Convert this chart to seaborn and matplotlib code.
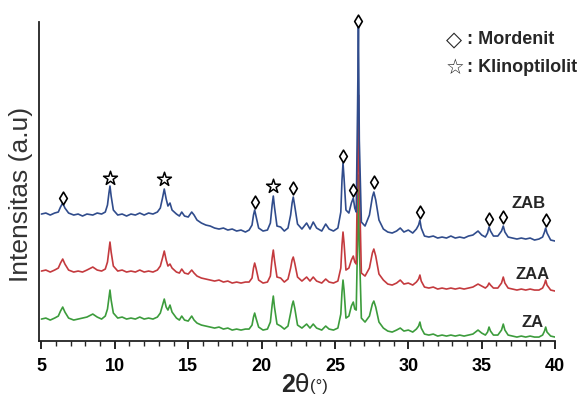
import matplotlib
matplotlib.use("Agg")
import matplotlib.pyplot as plt
import seaborn as sns
import pandas as pd
from matplotlib.ticker import MultipleLocator

# ---- data (2theta, intensity in arbitrary units) ----
two_theta = [
    5.0, 5.3, 5.6, 5.9, 6.15, 6.3, 6.45, 6.6, 6.85, 7.2,
    7.5, 7.8, 8.1, 8.5, 8.8, 9.1, 9.35, 9.5, 9.6, 9.67,
    9.75, 9.9, 10.2, 10.5, 10.8, 11.1, 11.4, 11.7, 12.0, 12.3,
    12.6, 12.9, 13.1, 13.25, 13.37, 13.5, 13.62, 13.76, 13.9, 14.2,
    14.4, 14.56, 14.75, 15.0, 15.24, 15.4, 15.6, 15.9, 16.2, 16.5,
    16.8, 17.1, 17.4, 17.7, 18.0, 18.3, 18.6, 18.9, 19.15, 19.35,
    19.45, 19.53, 19.62, 19.8, 20.1, 20.4, 20.6, 20.72, 20.8, 20.88,
    21.05, 21.3, 21.55, 21.8, 21.98, 22.08, 22.16, 22.26, 22.45, 22.75,
    23.07, 23.3, 23.52, 23.75, 24.1, 24.37, 24.6, 24.9, 25.2, 25.4,
    25.48, 25.55, 25.62, 25.75, 25.95, 26.12, 26.25, 26.35, 26.45, 26.54,
    26.6, 26.66, 26.8, 27.05, 27.35, 27.55, 27.65, 27.78, 28.0, 28.3,
    28.6, 28.9, 29.2, 29.45, 29.7, 30.0, 30.3, 30.55, 30.7, 30.79,
    30.88, 31.1, 31.4, 31.7, 32.0, 32.3, 32.6, 32.9, 33.2, 33.5,
    33.8, 34.1, 34.4, 34.75, 35.0, 35.25, 35.4, 35.5, 35.6, 35.8,
    36.1, 36.35, 36.47, 36.58, 36.8, 37.1, 37.4, 37.7, 38.0, 38.3,
    38.6, 38.9, 39.15, 39.28, 39.36, 39.45, 39.7, 40.0,
]

zab = [
    128, 129, 127, 129, 130, 135, 139, 134, 129, 127,
    128, 126, 128, 127, 129, 128, 130, 137, 149, 156,
    146, 132, 127, 128, 126, 128, 127, 129, 127, 129,
    128, 130, 134, 144, 153, 143, 136, 139, 132, 128,
    126, 130, 126, 125, 130, 127, 122, 119, 117, 116,
    114, 113, 114, 112, 113, 111, 112, 110, 112, 117,
    127, 132, 126, 114, 111, 112, 119, 137, 146, 135,
    116, 115, 111, 114, 127, 139, 145, 136, 118, 113,
    119, 113, 120, 114, 111, 118, 113, 111, 114, 130,
    162, 179, 164, 132, 129, 139, 144, 134, 130, 232,
    317, 202, 120, 116, 127, 145, 150, 142, 122, 113,
    110, 109, 111, 114, 110, 112, 109, 113, 117, 122,
    114, 106, 105, 106, 104, 105, 104, 106, 104, 105,
    104, 106, 107, 111, 107, 105, 109, 115, 111, 106,
    106, 111, 116, 110, 105, 104, 103, 104, 103, 104,
    102, 103, 105, 110, 114, 109, 102, 101,
]

zaa = [
    71, 72, 70, 72, 74, 79, 83, 78, 72, 70,
    71, 70, 72, 75, 72, 71, 73, 80, 92, 100,
    90, 76, 71, 72, 70, 71, 70, 72, 70, 71,
    70, 72, 76, 84, 91, 82, 76, 78, 74, 70,
    69, 73, 69, 68, 72, 69, 66, 64, 63, 62,
    61, 62, 60, 61, 59, 60, 59, 60, 60, 64,
    74, 79, 74, 62, 59, 60, 66, 84, 92, 82,
    65, 64, 60, 63, 74, 82, 85, 79, 65, 61,
    65, 61, 65, 61, 59, 63, 60, 59, 61, 74,
    97, 110, 99, 72, 74, 82, 86, 80, 78, 172,
    247, 162, 69, 66, 74, 89, 93, 86, 68, 62,
    58, 57, 59, 62, 58, 59, 57, 60, 63, 67,
    61, 55, 54, 55, 53, 54, 53, 54, 53, 54,
    53, 54, 55, 58, 56, 54, 56, 59, 57, 54,
    54, 59, 65, 59, 54, 53, 52, 53, 52, 53,
    52, 52, 54, 58, 62, 57, 52, 51,
]

za = [
    23, 24, 22, 24, 26, 31, 35, 30, 24, 22,
    23, 24, 25, 28, 25, 23, 26, 33, 44, 52,
    42, 29, 24, 25, 23, 24, 23, 25, 23, 24,
    23, 25, 29, 37, 43, 35, 32, 37, 30, 24,
    22, 26, 22, 21, 26, 22, 19, 17, 16, 15,
    14, 15, 13, 14, 12, 13, 12, 13, 13, 17,
    25, 29, 24, 15, 12, 13, 20, 37, 46, 35,
    18, 16, 13, 16, 29, 37, 41, 34, 17, 14,
    18, 14, 18, 14, 12, 16, 13, 12, 14, 28,
    50, 62, 52, 24, 26, 36, 40, 33, 32, 102,
    167, 97, 24, 20, 26, 38, 41, 35, 20, 14,
    11, 10, 12, 14, 11, 12, 10, 13, 16, 20,
    14, 8, 7, 8, 6, 7, 6, 7, 6, 7,
    6, 7, 8, 12, 9, 7, 10, 15, 11, 7,
    7, 12, 18, 12, 7, 6, 5, 6, 5, 6,
    5, 5, 7, 11, 15, 10, 6, 5,
]

series_names = ["ZA", "ZAA", "ZAB"]
series_colors = ["#3c9c3c", "#c43a3e", "#304c8c"]

# phase markers above the ZAB peaks
mordenit_x = [6.45, 19.53, 22.16, 25.55, 26.25, 26.6, 27.65, 30.79, 35.5, 36.47, 39.36]
mordenit_y = [144, 140, 154, 186, 152, 321, 160, 130, 123, 125, 122]
klino_x = [9.67, 13.37, 20.8]
klino_y = [164, 163, 156]

# series label positions
label_x = [38.5, 38.5, 38.2]
label_y = [20, 68, 139]

legend_symbols = ["◇", "☆"]
legend_names = [": Mordenit", ": Klinoptilolit"]

assert len(two_theta) == len(zab) == len(zaa) == len(za)

frames = []
for name, vals in zip(series_names, [za, zaa, zab]):
    frames.append(pd.DataFrame({"2theta": two_theta, "I": vals, "sample": name}))
df = pd.concat(frames, ignore_index=True)

sns.set_style("white")
plt.rcParams["font.family"] = ["Liberation Sans", "DejaVu Sans"]

fig = plt.figure(figsize=(5.77, 4.07), dpi=100)
ax = fig.add_axes([0.068, 0.162, 0.894, 0.784])

sns.lineplot(data=df, x="2theta", y="I", hue="sample", hue_order=series_names,
             palette=series_colors, linewidth=1.2, legend=False, ax=ax,
             sort=False, estimator=None)

ax.scatter(mordenit_x, mordenit_y, marker="d", s=42, facecolors="white",
           edgecolors="black", linewidths=1.2, zorder=5, clip_on=False)
ax.scatter(klino_x, klino_y, marker="*", s=110, facecolors="white",
           edgecolors="black", linewidths=1.1, zorder=5, clip_on=False)

for name, lx, ly in zip(series_names, label_x, label_y):
    ax.text(lx, ly, name, ha="center", va="center", fontsize=12, fontweight="bold")

# legend-like annotation (top right)
leg_y_px = [40, 68]
for sym, txt, ypx in zip(legend_symbols, legend_names, leg_y_px):
    yf = 1 - ypx / 407
    fig.text(446 / 577, yf, sym, fontsize=15, fontweight="bold", ha="left", va="center",
             family=["DejaVu Sans"])
    fig.text(467 / 577, yf, txt, fontsize=13, fontweight="bold", ha="left", va="center")

ax.set_xlim(4.85, 40.0)
ax.set_ylim(1, 320)
ax.xaxis.set_major_locator(MultipleLocator(5))
ax.xaxis.set_minor_locator(MultipleLocator(1))
ax.tick_params(axis="x", which="major", direction="out", length=6, width=1.2,
               bottom=True, labelsize=13, colors="black", pad=6)
ax.tick_params(axis="x", which="minor", direction="out", length=3.5, width=1.0, bottom=True)
for lab in ax.get_xticklabels():
    lab.set_fontweight("bold")
ax.set_yticks([])
ax.set_xlabel("")
ax.set_ylabel("Intensitas (a.u)", fontsize=19, color="#333333")
ax.yaxis.set_label_coords(-0.012, 0.46)

for side in ["top", "right"]:
    ax.spines[side].set_visible(False)
for side in ["left", "bottom"]:
    ax.spines[side].set_color("#222222")
    ax.spines[side].set_linewidth(1.3)

# x label: bold "2", theta, small "(°)"
fig.canvas.draw()
r = fig.canvas.get_renderer()
t1 = fig.text(0.487, 0.036, "2", fontsize=18, fontweight="bold", ha="left", va="baseline")
bb = t1.get_window_extent(renderer=r)
t2 = fig.text(bb.x1 / fig.bbox.width, 0.036, "θ", fontsize=17, ha="left", va="baseline",
              family=["DejaVu Sans"])
bb2 = t2.get_window_extent(renderer=r)
fig.text(bb2.x1 / fig.bbox.width + 0.002, 0.039, "(°)", fontsize=12, ha="left", va="baseline")

fig.savefig("out.png", dpi=100)
